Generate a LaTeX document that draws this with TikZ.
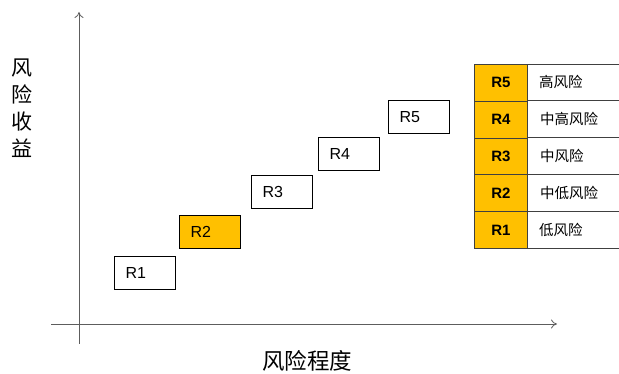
\documentclass[tikz,border=0pt]{standalone}
\usepackage{fontspec}
\setmainfont{Liberation Sans}
\newfontfamily\cjk{Noto Sans CJK SC}
\usetikzlibrary{arrows.meta}
\definecolor{gold}{HTML}{FFC000}
\definecolor{axisgray}{HTML}{404040}
\begin{document}
\begin{tikzpicture}[x=1pt,y=-1pt,
  axis/.style={draw=axisgray!85,line width=0.8pt,-{To[length=6pt,width=9pt]}},
  rbox/.style={draw=black,line width=1.2pt,minimum height=33pt,text width=39pt,inner xsep=11pt,inner ysep=0pt,align=left,font=\fontsize{16}{16}\selectfont,anchor=north west},
  tcell/.style={draw=axisgray,line width=0.9pt,fill=gold,minimum width=53pt,minimum height=36.8pt,inner sep=0pt,font=\fontsize{15}{15}\selectfont\bfseries,anchor=north west},
  tlab/.style={anchor=west,inner sep=0pt,font=\cjk\fontsize{14.5}{15}\selectfont},
  tline/.style={draw=axisgray,line width=0.9pt}]
\useasboundingbox (0,0) rectangle (619,374);
% axes
\coordinate (ybot) at (79,344);
\coordinate (ytop) at (79,12);
\coordinate (xleft) at (51,324);
\coordinate (xright) at (557,324);
\draw[axis] (ybot) -- (ytop);
\draw[axis] (xleft) -- (xright);
\node[font=\cjk\fontsize{21}{27}\selectfont,align=center,inner sep=0pt] (ylab) at (22,108) {风\\险\\收\\益};
\node[font=\cjk\fontsize{22.5}{22}\selectfont,inner sep=0pt] (xlab) at (307,361) {风险程度};
% boxes
\node[rbox] (r1) at (114,256) {R1};
\node[rbox,fill=gold] (r2) at (179,215) {R2};
\node[rbox] (r3) at (251,175) {R3};
\node[rbox] (r4) at (318,137) {R4};
\node[rbox] (r5) at (388,100) {R5};
% table
\foreach \y in {64,100.8,137.6,174.4,211.2,248}{
  \draw[tline] (527,\y) -- (619,\y);
}
\node[tcell] (t5) at (474,64) {R5};
\node[tcell] (t4) at (474,100.8) {R4};
\node[tcell] (t3) at (474,137.6) {R3};
\node[tcell] (t2) at (474,174.4) {R2};
\node[tcell] (t1) at (474,211.2) {R1};
\node[tlab] (l5) at (539,82.4) {高风险};
\node[tlab] (l4) at (540,119.2) {中高风险};
\node[tlab] (l3) at (540,156) {中风险};
\node[tlab] (l2) at (540,192.8) {中低风险};
\node[tlab] (l1) at (539,229.6) {低风险};
\end{tikzpicture}
\end{document}
